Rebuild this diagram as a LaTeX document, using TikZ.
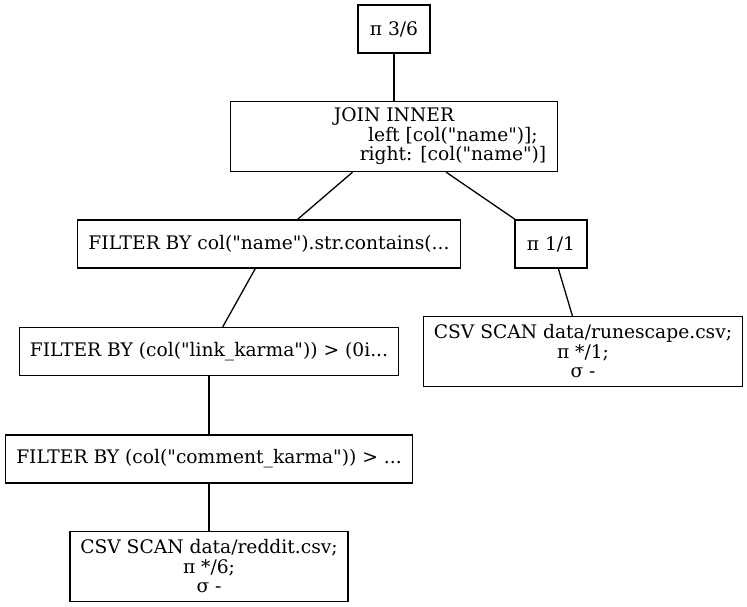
\documentclass[tikz,border=0pt]{standalone}
\usepackage{fontspec}
\newfontfamily\plfont{DejaVu Serif}
\tikzstyle{pNode} = [rectangle, draw=black, line width=1.3pt, inner sep=0pt, minimum height=48pt, align=center, font=\plfont\fontsize{18.67pt}{19.5pt}\selectfont]
\tikzstyle{pScan} = [pNode, minimum height=70pt]
\tikzstyle{pEdge} = [line width=1.3pt]

\begin{document}
\begin{tikzpicture}[node distance=107.5pt]
    \useasboundingbox (0pt,0pt) rectangle (747pt,-607pt);
    \node (proj) [pNode, minimum width=72pt] at (394pt,-29pt) {π 3/6};
    \node (join) [pScan, below of=proj, minimum width=327pt] {JOIN INNER\\\hspace*{118pt}left [col("name")];\\\hspace*{118pt}right: [col("name")]};
    \node (filterName) [pNode, below of=join, xshift=-125pt, minimum width=383pt] {FILTER BY col("name").str.contains(...};
    \node (projRight) [pNode, below of=join, xshift=157pt, minimum width=72pt] {π 1/1};
    \node (filterLink) [pNode, below of=filterName, xshift=-60pt, minimum width=379pt] {FILTER BY (col("link\_karma")) > (0i...};
    \node (scanRune) [pScan, below of=projRight, xshift=32pt, minimum width=319pt] {CSV SCAN data/runescape.csv;\\π */1;\\σ -};
    \node (filterComment) [pNode, below of=filterLink, minimum width=407pt] {FILTER BY (col("comment\_karma")) > ...};
    \node (scanReddit) [pScan, below of=filterComment, minimum width=278pt] {CSV SCAN data/reddit.csv;\\π */6;\\σ -};

    \draw [pEdge] (proj) -- (join);
    \draw [pEdge] (join) -- (filterName);
    \draw [pEdge] (join) -- (projRight);
    \draw [pEdge] (filterName) -- (filterLink);
    \draw [pEdge] (projRight) -- (scanRune);
    \draw [pEdge] (filterLink) -- (filterComment);
    \draw [pEdge] (filterComment) -- (scanReddit);
\end{tikzpicture}
\end{document}
